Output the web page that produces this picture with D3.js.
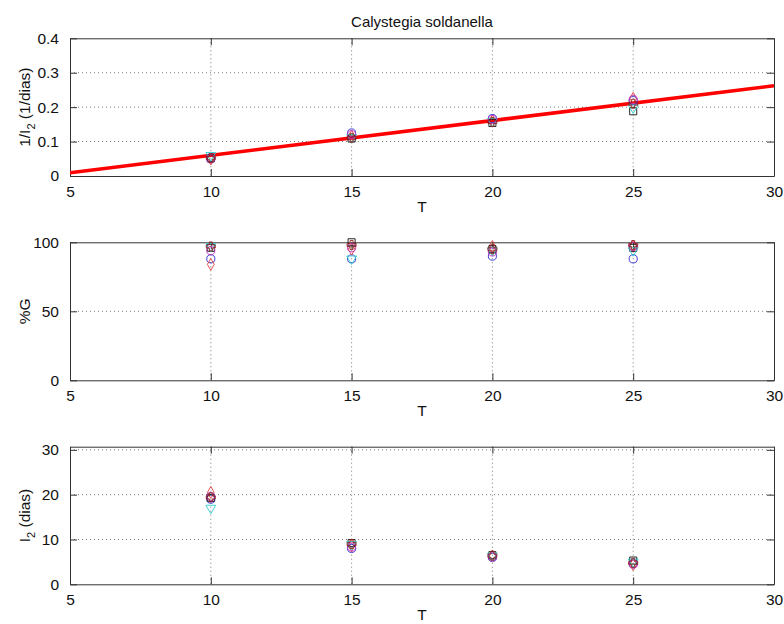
<!DOCTYPE html>
<html>
<head>
<meta charset="utf-8">
<script src="https://cdn.jsdelivr.net/npm/d3@7"></script>
<style>
  html, body { margin: 0; padding: 0; background: #fff; }
  svg { display: block; font-family: Arial, "Liberation Sans", Helvetica, sans-serif; }
</style>
</head>
<body>
<svg id="chart" width="784" height="624"></svg>
<script>
// ---------------- DATA ----------------
const title = "Calystegia soldanella";
const temps = [10, 15, 20, 25];
const xTicks = [5, 10, 15, 20, 25, 30];
const rateTicks = [0, 0.1, 0.2, 0.3, 0.4];
const germTicks = [0, 50, 100];
const daysTicks = [0, 10, 20, 30];

// replicate series (marker / colour per series)
const seriesNames = ["blueCircle", "redDiamond", "blackSquare", "cyanTriangle", "magentaCircle", "redPlus"];
const seriesColors = ["#2a2ad0", "#e04040", "#111111", "#30d0d0", "#c030c0", "#902020"];
const seriesSymbols = ["circle", "diamond", "square", "triangleDown", "circle", "plus"];

// 1/I2 (1/dias)
const rateBlueCircle    = [0.053, 0.125, 0.167, 0.219];
const rateRedDiamond    = [0.049, 0.116, 0.160, 0.226];
const rateBlackSquare   = [0.051, 0.109, 0.154, 0.188];
const rateCyanTriangle  = [0.060, 0.112, 0.159, 0.198];
const rateMagentaCircle = [0.050, 0.120, 0.164, 0.222];
const ratePlus          = [0.052, 0.111, 0.157, 0.210];

// %G
const germBlueCircle    = [88, 88, 90, 88];
const germRedDiamond    = [84, 95, 97, 97];
const germBlackSquare   = [96, 100, 95, 96];
const germCyanTriangle  = [97, 88, 94, 94];
const germMagentaCircle = [94, 96, 93, 97];
const germPlus          = [97, 98, 95, 98];

// I2 (dias)
const daysBlueCircle    = [19.0, 8.0, 6.0, 4.6];
const daysRedDiamond    = [20.5, 8.6, 6.3, 4.4];
const daysBlackSquare   = [19.3, 9.2, 6.5, 5.3];
const daysCyanTriangle  = [17.0, 8.9, 6.3, 5.0];
const daysMagentaCircle = [19.6, 8.3, 6.1, 4.5];
const daysPlus          = [19.4, 9.0, 6.4, 4.8];

// linear fit of 1/I2 versus T (endpoints at T=5 and T=30)
const fitT = [5, 30];
const fitRate = [0.0096, 0.262];

// ---------------- LAYOUT ----------------
const svg = d3.select("#chart");
const left = 70, right = 774;
const x = d3.scaleLinear().domain([5, 30]).range([left, right]);

const panels = [
  { top: 38.3, bottom: 176, domain: [0, 0.4], ticks: rateTicks, fmt: d3.format(".1~f"),
    label: "rate", series: [rateBlueCircle, rateRedDiamond, rateBlackSquare, rateCyanTriangle, rateMagentaCircle, ratePlus], fit: true },
  { top: 242.3, bottom: 380.3, domain: [0, 100], ticks: germTicks, fmt: d3.format("d"),
    label: "germ", series: [germBlueCircle, germRedDiamond, germBlackSquare, germCyanTriangle, germMagentaCircle, germPlus] },
  { top: 446.7, bottom: 584.3, domain: [0, 30.7], ticks: daysTicks, fmt: d3.format("d"),
    label: "days", series: [daysBlueCircle, daysRedDiamond, daysBlackSquare, daysCyanTriangle, daysMagentaCircle, daysPlus] }
];

const axisColor = "#333";
const gridColor = "#7a7a7a";
const fontSize = 15.5;

function symbolPath(kind) {
  switch (kind) {
    case "circle": return d3.symbol().type(d3.symbolCircle).size(52)();
    case "diamond": return d3.symbol().type(d3.symbolDiamond).size(40)();
    case "square": return d3.symbol().type(d3.symbolSquare).size(50)();
    case "triangleDown": return d3.symbol().type(d3.symbolTriangle).size(42)();
    case "plus": return d3.symbol().type(d3.symbolCross).size(45)();
  }
}

panels.forEach((p, pi) => {
  const y = d3.scaleLinear().domain(p.domain).range([p.bottom, p.top]);
  const g = svg.append("g");
  const clipId = "clip" + pi;
  svg.append("clipPath").attr("id", clipId).append("rect")
    .attr("x", left).attr("y", p.top).attr("width", right - left).attr("height", p.bottom - p.top);

  // grid
  const gridG = g.append("g").attr("stroke", gridColor).attr("stroke-width", 1).attr("stroke-dasharray", "1,3");
  xTicks.filter(t => t > 5 && t < 30).forEach(t => {
    gridG.append("line").attr("x1", x(t)).attr("x2", x(t)).attr("y1", p.top).attr("y2", p.bottom);
  });
  p.ticks.filter(t => y(t) > p.top + 1 && y(t) < p.bottom - 1).forEach(t => {
    gridG.append("line").attr("x1", left).attr("x2", right).attr("y1", y(t)).attr("y2", y(t));
  });

  // axes (inside ticks)
  const axB = d3.axisBottom(x).tickValues(xTicks).tickSizeInner(-7).tickSizeOuter(0).tickPadding(10);
  const axT = d3.axisTop(x).tickValues(xTicks).tickSizeInner(-7).tickSizeOuter(0).tickFormat("");
  const axL = d3.axisLeft(y).tickValues(p.ticks).tickSizeInner(-7).tickSizeOuter(0).tickPadding(11).tickFormat(p.fmt);
  const axR = d3.axisRight(y).tickValues(p.ticks).tickSizeInner(-7).tickSizeOuter(0).tickFormat("");

  [[axB, `translate(0,${p.bottom})`], [axT, `translate(0,${p.top})`],
   [axL, `translate(${left},0)`], [axR, `translate(${right},0)`]].forEach(([ax, tr]) => {
    const a = g.append("g").attr("transform", tr).call(ax);
    a.select(".domain").attr("stroke", axisColor);
    a.selectAll(".tick line").attr("stroke", axisColor);
    a.selectAll("text").attr("font-size", fontSize).attr("fill", "#111")
      .attr("font-family", "Arial, 'Liberation Sans', sans-serif");
  });

  // fit line
  if (p.fit) {
    g.append("path")
      .attr("clip-path", `url(#${clipId})`)
      .attr("d", d3.line().x((d, i) => x(fitT[i])).y(d => y(d))(fitRate))
      .attr("stroke", "#ff0000").attr("stroke-width", 3.6).attr("fill", "none");
  }

  // markers
  p.series.forEach((vals, si) => {
    g.append("g").selectAll("path").data(vals).join("path")
      .attr("d", symbolPath(seriesSymbols[si]))
      .attr("transform", (d, i) => `translate(${x(temps[i])},${y(d)})` + (seriesSymbols[si] === "triangleDown" ? " rotate(180)" : ""))
      .attr("fill", "none").attr("stroke", seriesColors[si]).attr("stroke-width", 0.9);
  });

  // x label
  g.append("text").attr("x", (left + right) / 2).attr("y", p.bottom + 36)
    .attr("text-anchor", "middle").attr("font-size", fontSize).attr("fill", "#111").text("T");
});

// y labels
function yLabel(cy, build) {
  const t = svg.append("text").attr("transform", `translate(30,${cy}) rotate(-90)`)
    .attr("text-anchor", "middle").attr("font-size", fontSize).attr("fill", "#111");
  build(t);
}
yLabel((38.3 + 176) / 2, t => {
  t.append("tspan").text("1/I");
  t.append("tspan").attr("font-size", 11).attr("dy", 5).text("2");
  t.append("tspan").attr("dy", -5).text(" (1/dias)");
});
yLabel((242.3 + 380.3) / 2, t => t.text("%G"));
yLabel((446.7 + 584.3) / 2, t => {
  t.append("tspan").text("I");
  t.append("tspan").attr("font-size", 11).attr("dy", 5).text("2");
  t.append("tspan").attr("dy", -5).text(" (dias)");
});

// title
svg.append("text").attr("x", (left + right) / 2).attr("y", 27).attr("text-anchor", "middle")
  .attr("font-size", 15).attr("fill", "#111").text(title);
</script>
</body>
</html>
